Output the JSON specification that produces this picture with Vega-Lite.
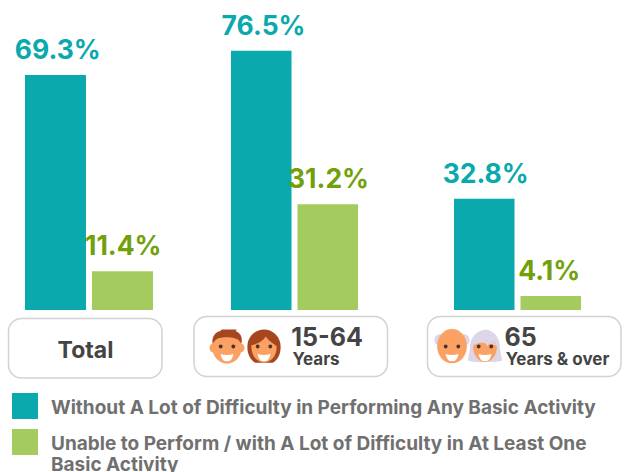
{"$schema":"https://vega.github.io/schema/vega-lite/v6.json","width":629,"height":472,"padding":0,"autosize":{"type":"none"},"background":"#ffffff","config":{"view":{"stroke":null},"font":"Inter"},
"datasets":{"bars":[
{"group":"Total","series":"Without A Lot of Difficulty in Performing Any Basic Activity","value":69.3,"label":"69.3%"},
{"group":"Total","series":"Unable to Perform / with A Lot of Difficulty in At Least One Basic Activity","value":11.4,"label":"11.4%"},
{"group":"15-64 Years","series":"Without A Lot of Difficulty in Performing Any Basic Activity","value":76.5,"label":"76.5%"},
{"group":"15-64 Years","series":"Unable to Perform / with A Lot of Difficulty in At Least One Basic Activity","value":31.2,"label":"31.2%"},
{"group":"65 Years & over","series":"Without A Lot of Difficulty in Performing Any Basic Activity","value":32.8,"label":"32.8%"},
{"group":"65 Years & over","series":"Unable to Perform / with A Lot of Difficulty in At Least One Basic Activity","value":4.1,"label":"4.1%"}],
"captions":[{"label":"Total"},{"label":"15-64"},{"label":"Years"},{"label":"65"},{"label":"Years & over"}],
"faces":[
{"person":"man","part":"skinM","tone":"skin"},{"person":"man","part":"hairM","tone":"brown"},{"person":"man","part":"eyes","tone":"dark"},{"person":"man","part":"smile","tone":"white"},
{"person":"woman","part":"hairW","tone":"brown"},{"person":"woman","part":"skinW","tone":"skin"},{"person":"woman","part":"eyes","tone":"dark"},{"person":"woman","part":"smile","tone":"white"},
{"person":"old man","part":"hairO","tone":"lavender"},{"person":"old man","part":"skinO","tone":"skin"},{"person":"old man","part":"eyes","tone":"dark"},{"person":"old man","part":"smile","tone":"white"},
{"person":"old woman","part":"hairP","tone":"lavender"},{"person":"old woman","part":"skinP","tone":"skin"},{"person":"old woman","part":"fringe","tone":"lavender"},{"person":"old woman","part":"eyes","tone":"dark"},{"person":"old woman","part":"smile","tone":"white"}]},
"resolve":{"scale":{"x":"independent","y":"independent"}},
"layer":[
{"data":{"values":[{"group":"Total"}]},"mark":{"type":"rect","fill":"#ffffff","stroke":"#d2d2d2","strokeWidth":1.5,"cornerRadius":13},"encoding":{"x":{"field":"group","type":"nominal","axis":null,"scale":{"domain":["Total"],"range":[8.5,162],"padding":0}},"y":{"field":"group","type":"nominal","axis":null,"scale":{"domain":["Total"],"range":[318.5,378],"padding":0}}}},
{"data":{"values":[{"group":"15-64 Years"}]},"mark":{"type":"rect","fill":"#ffffff","stroke":"#d2d2d2","strokeWidth":1.5,"cornerRadius":13},"encoding":{"x":{"field":"group","type":"nominal","axis":null,"scale":{"domain":["15-64 Years"],"range":[194,387.5],"padding":0}},"y":{"field":"group","type":"nominal","axis":null,"scale":{"domain":["15-64 Years"],"range":[316.5,376.5],"padding":0}}}},
{"data":{"values":[{"group":"65 Years & over"}]},"mark":{"type":"rect","fill":"#ffffff","stroke":"#d2d2d2","strokeWidth":1.5,"cornerRadius":13},"encoding":{"x":{"field":"group","type":"nominal","axis":null,"scale":{"domain":["65 Years & over"],"range":[427.5,621],"padding":0}},"y":{"field":"group","type":"nominal","axis":null,"scale":{"domain":["65 Years & over"],"range":[316.5,376.5],"padding":0}}}},

{"data":{"name":"bars"},"transform":[{"filter":"datum.group==='Total'"}],"mark":{"type":"bar"},"encoding":{"x":{"field":"series","type":"nominal","axis":null,"sort":null,"scale":{"domain":["Without A Lot of Difficulty in Performing Any Basic Activity","Unable to Perform / with A Lot of Difficulty in At Least One Basic Activity"],"range":[25,153],"paddingInner":0.09,"paddingOuter":0}},"y":{"field":"value","type":"quantitative","axis":null,"scale":{"domain":[0,100],"range":[310,-29],"nice":false}},"color":{"field":"series","type":"nominal","sort":null,"scale":{"domain":["Without A Lot of Difficulty in Performing Any Basic Activity","Unable to Perform / with A Lot of Difficulty in At Least One Basic Activity"],"range":["#0aa9ad","#a4cb5e"]},"legend":{"title":null,"orient":"none","legendX":12,"legendY":393,"direction":"vertical","symbolType":"square","symbolSize":676,"symbolStrokeWidth":0,"symbolOpacity":1,"labelFontSize":19,"labelFontWeight":700,"labelFont":"Inter","labelColor":"#707070","labelLimit":620,"labelOffset":13,"rowPadding":10,"labelExpr":"indexof(datum.label,'Unable')===0?['Unable to Perform / with A Lot of Difficulty in At Least One','Basic Activity']:datum.label","encode":{"labels":{"update":{"dy":{"value":1.5}}}}}}}},
{"data":{"name":"bars"},"transform":[{"filter":"datum.group==='15-64 Years'"}],"mark":{"type":"bar"},"encoding":{"x":{"field":"series","type":"nominal","axis":null,"sort":null,"scale":{"domain":["Without A Lot of Difficulty in Performing Any Basic Activity","Unable to Perform / with A Lot of Difficulty in At Least One Basic Activity"],"range":[231,358],"paddingInner":0.09,"paddingOuter":0}},"y":{"field":"value","type":"quantitative","axis":null,"scale":{"domain":[0,100],"range":[310,-29],"nice":false}},"color":{"field":"series","type":"nominal","sort":null}}},
{"data":{"name":"bars"},"transform":[{"filter":"datum.group==='65 Years & over'"}],"mark":{"type":"bar"},"encoding":{"x":{"field":"series","type":"nominal","axis":null,"sort":null,"scale":{"domain":["Without A Lot of Difficulty in Performing Any Basic Activity","Unable to Perform / with A Lot of Difficulty in At Least One Basic Activity"],"range":[454,581],"paddingInner":0.09,"paddingOuter":0}},"y":{"field":"value","type":"quantitative","axis":null,"scale":{"domain":[0,100],"range":[310,-29],"nice":false}},"color":{"field":"series","type":"nominal","sort":null}}},

{"data":{"name":"bars"},"transform":[{"filter":"datum.group==='Total'"}],"mark":{"type":"text","fontSize":26.5,"fontWeight":700,"dy":-16,"baseline":"alphabetic","font":"Inter"},"encoding":{"x":{"field":"series","type":"nominal","axis":null,"sort":null,"scale":{"domain":["Without A Lot of Difficulty in Performing Any Basic Activity","Unable to Perform / with A Lot of Difficulty in At Least One Basic Activity"],"range":[25,156],"paddingInner":0.09,"paddingOuter":0}},"y":{"field":"value","type":"quantitative","axis":null,"scale":{"domain":[0,100],"range":[310,-29],"nice":false}},"text":{"field":"label"},"color":{"condition":{"test":"indexof(datum.series,'Unable')===0","value":"#72a00a"},"value":"#0aa9ad"}}},
{"data":{"name":"bars"},"transform":[{"filter":"datum.group==='15-64 Years'"}],"mark":{"type":"text","fontSize":26.5,"fontWeight":700,"dy":-16,"baseline":"alphabetic","font":"Inter"},"encoding":{"x":{"field":"series","type":"nominal","axis":null,"sort":null,"scale":{"domain":["Without A Lot of Difficulty in Performing Any Basic Activity","Unable to Perform / with A Lot of Difficulty in At Least One Basic Activity"],"range":[231,361],"paddingInner":0.09,"paddingOuter":0}},"y":{"field":"value","type":"quantitative","axis":null,"scale":{"domain":[0,100],"range":[310,-29],"nice":false}},"text":{"field":"label"},"color":{"condition":{"test":"indexof(datum.series,'Unable')===0","value":"#72a00a"},"value":"#0aa9ad"}}},
{"data":{"name":"bars"},"transform":[{"filter":"datum.group==='65 Years & over'"}],"mark":{"type":"text","fontSize":26.5,"fontWeight":700,"dy":-16,"baseline":"alphabetic","font":"Inter"},"encoding":{"x":{"field":"series","type":"nominal","axis":null,"sort":null,"scale":{"domain":["Without A Lot of Difficulty in Performing Any Basic Activity","Unable to Perform / with A Lot of Difficulty in At Least One Basic Activity"],"range":[454,581],"paddingInner":0.09,"paddingOuter":0}},"y":{"field":"value","type":"quantitative","axis":null,"scale":{"domain":[0,100],"range":[310,-29],"nice":false}},"text":{"field":"label"},"color":{"condition":{"test":"indexof(datum.series,'Unable')===0","value":"#72a00a"},"value":"#0aa9ad"}}},

{"data":{"name":"captions"},"transform":[{"filter":"datum.label==='Total'"}],"mark":{"type":"text","fontSize":23,"fontWeight":700,"color":"#444444","font":"Inter"},"encoding":{"text":{"field":"label"},"x":{"field":"label","type":"nominal","axis":null,"scale":{"domain":["Total"],"range":[58,113],"padding":0}},"y":{"field":"label","type":"nominal","axis":null,"scale":{"domain":["Total"],"range":[340,361],"padding":0}}}},
{"data":{"name":"captions"},"transform":[{"filter":"datum.label==='15-64'"}],"mark":{"type":"text","fontSize":25,"fontWeight":700,"color":"#444444","font":"Inter"},"encoding":{"text":{"field":"label"},"x":{"field":"label","type":"nominal","axis":null,"scale":{"domain":["15-64"],"range":[292,362],"padding":0}},"y":{"field":"label","type":"nominal","axis":null,"scale":{"domain":["15-64"],"range":[328,348],"padding":0}}}},
{"data":{"name":"captions"},"transform":[{"filter":"datum.label==='Years'"}],"mark":{"type":"text","fontSize":17,"fontWeight":700,"color":"#444444","font":"Inter"},"encoding":{"text":{"field":"label"},"x":{"field":"label","type":"nominal","axis":null,"scale":{"domain":["Years"],"range":[292,340],"padding":0}},"y":{"field":"label","type":"nominal","axis":null,"scale":{"domain":["Years"],"range":[353,367],"padding":0}}}},
{"data":{"name":"captions"},"transform":[{"filter":"datum.label==='65'"}],"mark":{"type":"text","fontSize":25,"fontWeight":700,"color":"#444444","font":"Inter"},"encoding":{"text":{"field":"label"},"x":{"field":"label","type":"nominal","axis":null,"scale":{"domain":["65"],"range":[506,535],"padding":0}},"y":{"field":"label","type":"nominal","axis":null,"scale":{"domain":["65"],"range":[328,348],"padding":0}}}},
{"data":{"name":"captions"},"transform":[{"filter":"datum.label==='Years & over'"}],"mark":{"type":"text","fontSize":17,"fontWeight":700,"color":"#444444","font":"Inter"},"encoding":{"text":{"field":"label"},"x":{"field":"label","type":"nominal","axis":null,"scale":{"domain":["Years & over"],"range":[506,609],"padding":0}},"y":{"field":"label","type":"nominal","axis":null,"scale":{"domain":["Years & over"],"range":[353,367],"padding":0}}}},

{"data":{"name":"faces"},"transform":[{"filter":"datum.person==='man'||datum.person==='woman'"}],"mark":{"type":"point","filled":true,"opacity":1,"size":1225,"strokeWidth":0},"encoding":{"x":{"field":"person","type":"nominal","axis":null,"sort":null,"scale":{"domain":["man","woman"],"range":[227,264],"padding":0}},"y":{"field":"person","type":"nominal","axis":null,"scale":{"domain":["man","woman"],"range":[347,347],"padding":0}},
"shape":{"field":"part","type":"nominal","legend":null,"scale":{"domain":["skinM","hairM","eyes","smile","hairW","skinW","hairO","skinO","hairP","skinP","fringe"],"range":[
"M-.85,0A.85,.95 0 1,1 .85,0A.85,.95 0 1,1 -.85,0ZM-1,.05A.2,.25 0 1,1 -.6,.05A.2,.25 0 1,1 -1,.05ZM.6,.05A.2,.25 0 1,1 1,.05A.2,.25 0 1,1 .6,.05Z",
"M-.82,-.2C-.9,-.6 -.6,-.9 -.4,-.9L-.3,-1L.55,-1L.5,-.9C.8,-.8 .9,-.5 .82,-.2L.7,-.35C.55,-.6 -.5,-.65 -.7,-.35Z",
"M-.47,-.03A.11,.11 0 1,1 -.25,-.03A.11,.11 0 1,1 -.47,-.03ZM.25,-.03A.11,.11 0 1,1 .47,-.03A.11,.11 0 1,1 .25,-.03Z",
"M-.37,.4Q0,.5 .37,.4Q.3,.82 0,.82Q-.3,.82 -.37,.4Z",
"M-.95,-.02A.95,.98 0 1,1 .95,-.02C.95,.4 .8,.7 .5,.9L-.5,.9C-.8,.7 -.95,.4 -.95,-.02Z",
"M-.72,-.1C-.4,-.15 -.05,-.35 .1,-.6C.3,-.3 .55,-.2 .72,-.05C.75,.5 .4,.88 0,.88C-.4,.88 -.75,.5 -.72,-.1Z",
"M-1,-.45A.32,.32 0 1,1 -.6,-.1L-.8,-.1A.3,.3 0 0,1 -1,-.45ZM.6,-.1A.32,.32 0 1,1 1,-.45A.3,.3 0 0,1 .8,-.1Z",
"M-.85,-.05A.85,.98 0 1,1 .85,-.05A.85,.98 0 1,1 -.85,-.05Z",
"M-.85,.1C-.9,-.5 -.5,-.95 .05,-1C.5,-.95 .9,-.5 .85,.1L.98,.78L.6,.85L-.6,.85L-.98,.78Z",
"M-.68,.05C-.68,-.3 -.3,-.4 0,-.4C.3,-.4 .68,-.3 .68,.05C.65,.5 .35,.85 0,.85C-.35,.85 -.65,.5 -.68,.05Z",
"M-.7,-.1C-.5,-.5 -.2,-.75 .05,-.75L-.1,-.5L.1,-.6L.1,-.35L.3,-.5L.4,-.3L.7,-.1C.6,-.05 .4,-.2 .25,-.2L.15,-.05L0,-.25L-.3,-.25Z"]}},
"fill":{"field":"tone","type":"nominal","legend":null,"scale":{"domain":["skin","brown","dark","white","lavender"],"range":["#fba164","#a5461f","#4a3328","#ffffff","#dcd6e8"]}}}},
{"data":{"name":"faces"},"transform":[{"filter":"datum.person==='old man'||datum.person==='old woman'"}],"mark":{"type":"point","filled":true,"opacity":1,"size":1225,"strokeWidth":0},"encoding":{"x":{"field":"person","type":"nominal","axis":null,"sort":null,"scale":{"domain":["old man","old woman"],"range":[452,485],"padding":0}},"y":{"field":"person","type":"nominal","axis":null,"scale":{"domain":["old man","old woman"],"range":[347,347],"padding":0}},
"shape":{"field":"part","type":"nominal","legend":null},"fill":{"field":"tone","type":"nominal","legend":null}}}
]}
